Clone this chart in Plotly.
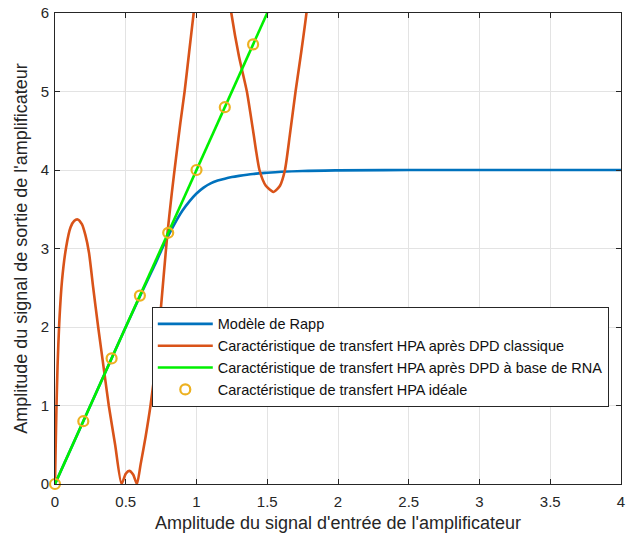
import plotly.graph_objects as go

# Rapp model
rapp_x = [0, 0.2, 0.4, 0.5, 0.6, 0.65, 0.7, 0.75, 0.8, 0.85, 0.9, 0.95, 1.0, 1.05, 1.1, 1.15, 1.2, 1.25, 1.3, 1.4, 1.5, 1.6, 1.75, 2.0, 2.5, 3.0, 3.5, 4.0]
rapp_y = [0, 0.8, 1.6, 2.0, 2.39, 2.58, 2.77, 2.97, 3.16, 3.33, 3.48, 3.60, 3.70, 3.775, 3.83, 3.865, 3.89, 3.91, 3.925, 3.95, 3.965, 3.977, 3.988, 3.995, 4.0, 4.0, 4.0, 4.0]

# HPA after classic DPD
dpd_x = [0, 0.004, 0.01, 0.018, 0.03, 0.05, 0.079, 0.11, 0.135, 0.16, 0.19, 0.215, 0.24, 0.27, 0.305, 0.35, 0.38, 0.425, 0.47,
         0.5, 0.525, 0.552, 0.579, 0.605, 0.64, 0.675, 0.71, 0.739, 0.768, 0.795, 0.825, 0.855, 0.886, 0.916, 0.948, 0.98,
         1.04, 1.11, 1.18, 1.246, 1.30, 1.356, 1.40, 1.445, 1.49, 1.545, 1.59, 1.625, 1.66, 1.70, 1.74, 1.777, 1.82]
dpd_y = [0, 0.4, 0.95, 1.5, 2.05, 2.6, 3.02, 3.27, 3.35, 3.37, 3.31, 3.17, 2.95, 2.5, 2.0, 1.4, 1.0, 0.5, 0,
         0.13, 0.167, 0.12, 0, 0.25, 0.6, 1.0, 1.5, 2.05, 2.65, 3.2, 3.7, 4.15, 4.6, 5.0, 5.5, 6.0,
         6.9, 7.3, 6.9, 6.0, 5.45, 5.0, 4.5, 4.0, 3.8, 3.72, 3.8, 4.0, 4.45, 5.0, 5.5, 6.0, 6.8]

# HPA after ANN-based DPD
ann_x = [0, 0.5, 1.0, 1.5]
ann_y = [0, 2.0, 4.0, 6.0]

# Ideal HPA characteristic
ideal_x = [0, 0.2, 0.4, 0.6, 0.8, 1.0, 1.2, 1.4]
ideal_y = [0, 0.8, 1.6, 2.4, 3.2, 4.0, 4.8, 5.6]

x_ticks = [0, 0.5, 1, 1.5, 2, 2.5, 3, 3.5, 4]
y_ticks = [0, 1, 2, 3, 4, 5, 6]

FONT = "Liberation Sans, Arial, sans-serif"
TXT = "#262626"

fig = go.Figure()
fig.add_trace(go.Scatter(x=rapp_x, y=rapp_y, mode="lines", name="Modèle de Rapp",
                         line=dict(color="#0072BD", width=2.6, shape="spline", smoothing=1.0)))
fig.add_trace(go.Scatter(x=dpd_x, y=dpd_y, mode="lines",
                         name="Caractéristique de transfert HPA après DPD classique",
                         line=dict(color="#D95319", width=2.6, shape="spline", smoothing=0.6)))
fig.add_trace(go.Scatter(x=ann_x, y=ann_y, mode="lines",
                         name="Caractéristique de transfert HPA après DPD à base de RNA",
                         line=dict(color="#00F000", width=2.6)))
fig.add_trace(go.Scatter(x=ideal_x, y=ideal_y, mode="markers",
                         name="Caractéristique de transfert HPA idéale",
                         marker=dict(symbol="circle-open", size=10, color="#EDB120", line=dict(width=2.2, color="#EDB120")),
                         cliponaxis=False))

axis_common = dict(showline=True, linecolor=TXT, linewidth=1, mirror="ticks", ticks="inside", ticklen=5,
                   tickcolor=TXT, showgrid=True, gridcolor="#E3E3E3", gridwidth=1, zeroline=False,
                   automargin=False, tickfont=dict(family=FONT, size=15, color=TXT))

fig.update_xaxes(range=[0, 4], tickvals=x_ticks, ticktext=[str(t) for t in x_ticks], ticklabelstandoff=4,
                 title=dict(text="Amplitude du signal d'entrée de l'amplificateur",
                            font=dict(family=FONT, size=18, color=TXT), standoff=7),
                 **axis_common)
fig.update_yaxes(range=[0, 6], tickvals=y_ticks, ticklabelstandoff=2,
                 title=dict(text="Amplitude du signal de sortie de l'amplificateur",
                            font=dict(family=FONT, size=18, color=TXT), standoff=8),
                 **axis_common)

fig.update_layout(
    width=637, height=538,
    margin=dict(l=55, r=16, t=13, b=54),
    plot_bgcolor="white", paper_bgcolor="white",
    font=dict(family=FONT, color=TXT),
    legend=dict(x=0.171, y=0.376, xanchor="left", yanchor="top",
                bgcolor="white", bordercolor=TXT, borderwidth=1,
                font=dict(family=FONT, size=14.5, color="#111111"),
                itemwidth=55, tracegroupgap=0),
    showlegend=True,
)

fig.write_html("out.html")
